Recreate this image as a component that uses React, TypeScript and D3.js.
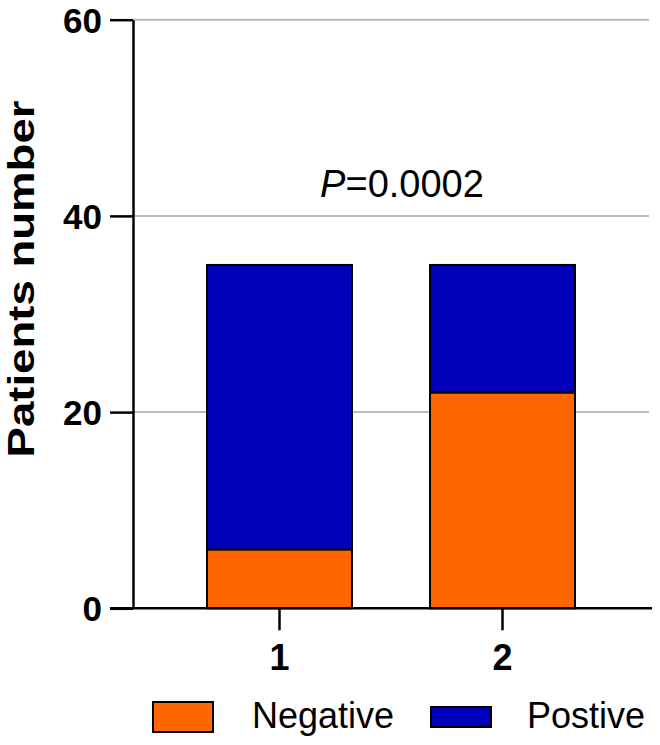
import React, { useEffect, useRef } from "react";
import * as d3 from "d3";

const groups = ["1", "2"];
const negative = [6, 22];
const positive = [29, 13];
const yTicks = [0, 20, 40, 60];
const seriesNames = ["Negative", "Postive"];
const seriesColors = ["#FF6600", "#0000BB"];

function drawChart(container: SVGSVGElement) {
  const width = 660,
    height = 745;
  const margin = { left: 133, right: 11, top: 20, bottom: 137 };
  const font = "'Liberation Sans', Arial, sans-serif";

  const svg = d3.select(container);
  svg.selectAll("*").remove();
  svg.attr("width", width).attr("height", height);

  const y = d3
    .scaleLinear()
    .domain([0, 60])
    .range([height - margin.bottom + 0.3, margin.top - 0.3]);

  const x = d3
    .scaleBand()
    .domain(groups)
    .range([168, 614])
    .paddingInner(0.35)
    .paddingOuter(0.175);

  // gridlines
  svg
    .append("g")
    .selectAll("line")
    .data(yTicks.filter((t) => t > 0))
    .join("line")
    .attr("x1", margin.left)
    .attr("x2", 649)
    .attr("y1", (d) => y(d))
    .attr("y2", (d) => y(d))
    .style("stroke", "#BBBBBB")
    .style("stroke-width", "2px");

  // stacked bars
  const rows = groups.map((g, i) => ({ group: g, Negative: negative[i], Postive: positive[i] }));
  const stack = d3.stack<any>().keys(seriesNames)(rows);

  svg
    .append("g")
    .selectAll("g")
    .data(stack)
    .join("g")
    .style("fill", (d, i) => seriesColors[i])
    .selectAll("rect")
    .data((d) => d)
    .join("rect")
    .attr("x", (d) => x(d.data.group)!)
    .attr("width", x.bandwidth())
    .attr("y", (d) => y(d[1]))
    .attr("height", (d) => y(d[0]) - y(d[1]))
    .style("stroke", "#000")
    .style("stroke-width", "2px");

  // y axis
  const yAxis = d3
    .axisLeft(y)
    .tickValues(yTicks)
    .tickSizeInner(23)
    .tickSizeOuter(0)
    .tickPadding(8);
  const gy = svg
    .append("g")
    .attr("transform", "translate(" + margin.left + ",0)")
    .call(yAxis);
  gy.select("path").style("stroke", "#000").style("stroke-width", "2.5px");
  gy.selectAll(".tick line").style("stroke", "#000").style("stroke-width", "2.5px");
  gy.selectAll(".tick text")
    .attr("dy", "0.36em")
    .style("font-family", font)
    .style("font-size", "35px")
    .style("font-weight", "bold")
    .style("fill", "#000");

  // x axis
  const xAxis = d3.axisBottom(x).tickSizeInner(22).tickSizeOuter(0).tickPadding(14);
  const gx = svg
    .append("g")
    .attr("transform", "translate(0," + y(0) + ")")
    .call(xAxis);
  gx.select("path")
    .attr("d", "M" + (margin.left - 23) + ",0H" + 652)
    .style("stroke", "#000")
    .style("stroke-width", "2.5px");
  gx.selectAll(".tick line").style("stroke", "#000").style("stroke-width", "2.5px");
  gx.selectAll(".tick text")
    .style("font-family", font)
    .style("font-size", "36px")
    .style("font-weight", "bold")
    .style("fill", "#000");

  // y axis title
  svg
    .append("text")
    .attr("transform", "translate(34,279) rotate(-90)")
    .attr("text-anchor", "middle")
    .attr("textLength", 357)
    .attr("lengthAdjust", "spacingAndGlyphs")
    .style("font-family", font)
    .style("font-size", "37px")
    .style("font-weight", "bold")
    .text("Patients number");

  // p value
  const pText = svg
    .append("text")
    .attr("x", 402)
    .attr("y", 197)
    .attr("text-anchor", "middle")
    .style("font-family", font)
    .style("font-size", "38px");
  pText.append("tspan").style("font-style", "italic").text("P");
  pText.append("tspan").text("=0.0002");

  // legend
  const legend = [
    { name: seriesNames[0], color: seriesColors[0], x: 153, y: 702, w: 60, h: 30, tx: 252 },
    { name: seriesNames[1], color: seriesColors[1], x: 431, y: 707, w: 60, h: 20, tx: 527 },
  ];
  const lg = svg.append("g").selectAll("g").data(legend).join("g");
  lg.append("rect")
    .attr("x", (d) => d.x)
    .attr("y", (d) => d.y)
    .attr("width", (d) => d.w)
    .attr("height", (d) => d.h)
    .style("fill", (d) => d.color)
    .style("stroke", "#000")
    .style("stroke-width", "2px");
  lg.append("text")
    .attr("x", (d) => d.tx)
    .attr("y", 728)
    .style("font-family", font)
    .style("font-size", "36px")
    .text((d) => d.name);
}

export default function App() {
  const ref = useRef<SVGSVGElement>(null);
  useEffect(() => {
    if (ref.current) drawChart(ref.current);
  }, []);
  return (
    <svg
      ref={ref}
      style={{ position: "absolute", left: 0, top: 0, background: "#fff" }}
    />
  );
}
